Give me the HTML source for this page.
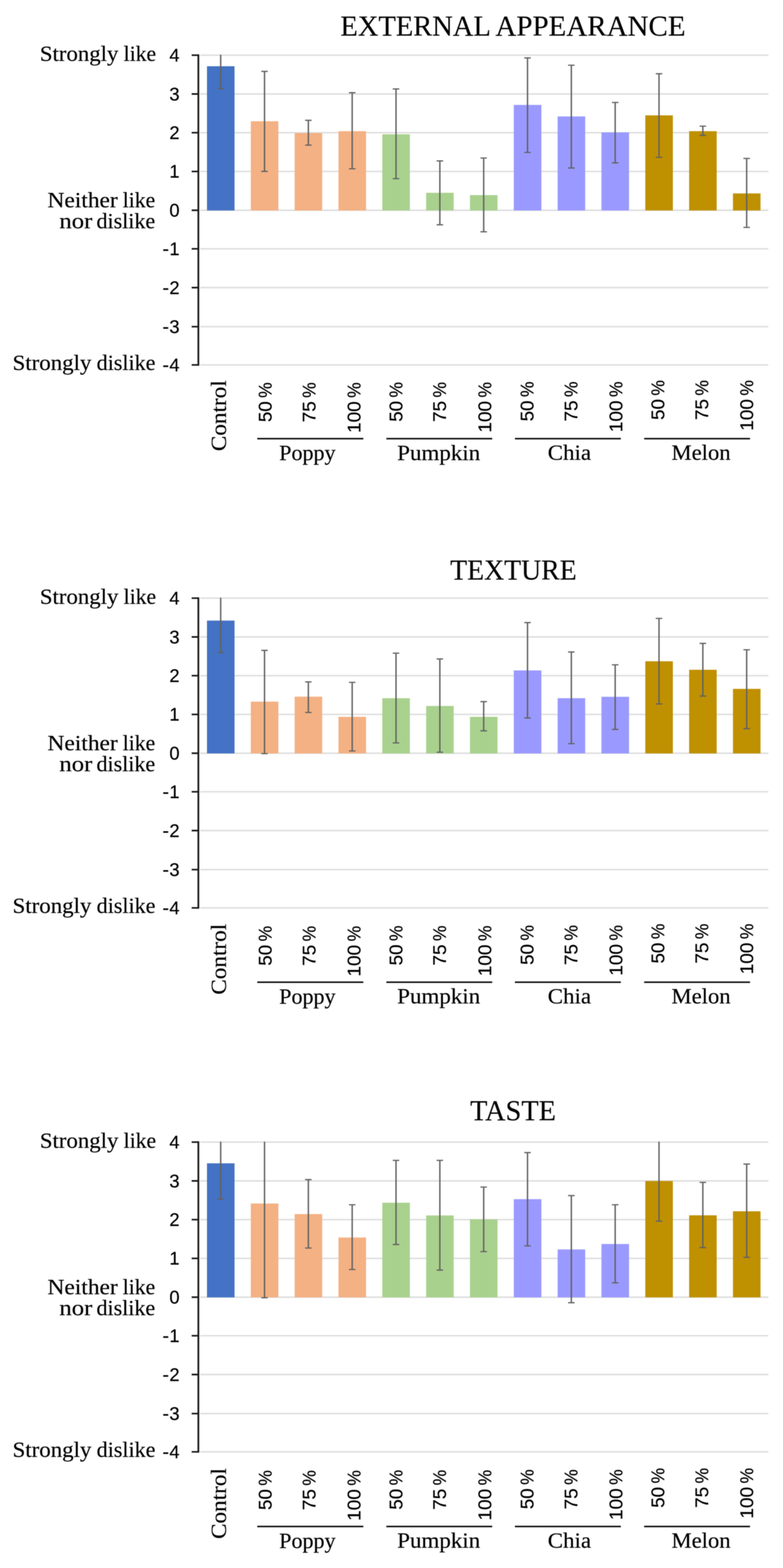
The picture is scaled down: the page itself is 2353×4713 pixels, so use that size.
<!DOCTYPE html>
<html lang="en">
<head>
<meta charset="utf-8">
<title>Sensory evaluation: external appearance, texture, taste</title>
<style>
html,body{margin:0;padding:0;background:#fff}
body{width:2353px;height:4713px;overflow:hidden}
svg{display:block;filter:blur(0.9px)}
text{fill:#000;white-space:pre}
.s{font-family:"Liberation Serif", serif;font-size:65px;stroke:#000;stroke-width:.45px}
.t{font-family:"Liberation Serif", serif;font-size:86px;stroke:#000;stroke-width:.3px}
.n{font-family:"Liberation Sans", sans-serif;font-size:55px;stroke:#000;stroke-width:.5px}
.r{font-family:"Liberation Sans", sans-serif;font-size:55px;stroke:#000;stroke-width:.5px}
.g{stroke:#dddddd;stroke-width:4.3;fill:none}
.a{stroke:#161616;fill:none;stroke-linejoin:round;stroke-linecap:butt}
.e{stroke:#626262;stroke-width:4.2;fill:none}
.c{stroke:#626262;stroke-width:3.6;fill:none}
.u{stroke:#0a0a0a;stroke-width:4.4;fill:none}
</style>
</head>
<body>
<svg width="2353" height="4713" viewBox="0 0 2353 4713">
<rect width="2353" height="4713" fill="#fff"/>
<g transform="translate(0 0)">
<text class="t" y="106.8"><tspan x="1022.95" textLength="448.86" lengthAdjust="spacingAndGlyphs">EXTERNAL</tspan> <tspan x="1488.75" textLength="571.39" lengthAdjust="spacingAndGlyphs">APPEARANCE</tspan></text>
<path class="g" d="M601 165.9H2309M601 282.5H2309M601 398.9H2309M601 515.3H2309M601 632H2309M601 747.8H2309M601 864.5H2309M601 981.8H2309M601 1096.8H2309"/>
<rect x="622" y="199.1" width="82.8" height="433.5" fill="#4472C4"/>
<rect x="753.72" y="364.4" width="82.8" height="268.2" fill="#F4B183"/>
<rect x="885.44" y="399.9" width="82.8" height="232.7" fill="#F4B183"/>
<rect x="1017.16" y="394.3" width="82.8" height="238.3" fill="#F4B183"/>
<rect x="1148.88" y="403.6" width="82.8" height="229" fill="#A9D18E"/>
<rect x="1280.6" y="579.5" width="82.8" height="53.1" fill="#A9D18E"/>
<rect x="1412.32" y="586.5" width="82.8" height="46.1" fill="#A9D18E"/>
<rect x="1544.04" y="315.4" width="82.8" height="317.2" fill="#9999FF"/>
<rect x="1675.76" y="350" width="82.8" height="282.6" fill="#9999FF"/>
<rect x="1807.48" y="398" width="82.8" height="234.6" fill="#9999FF"/>
<rect x="1939.2" y="346.7" width="82.8" height="285.9" fill="#BF9000"/>
<rect x="2070.92" y="394.3" width="82.8" height="238.3" fill="#BF9000"/>
<rect x="2202.64" y="581.4" width="82.8" height="51.2" fill="#BF9000"/>
<path class="e" d="M663.2 164.4V266.4M794.92 214.6V515.1M926.64 361.6V436.3M1058.36 278.6V507.2M1190.08 267.4V537M1321.8 483.6V675.6M1453.52 475V696.6M1585.24 174.1V458.2M1716.96 196V504.9M1848.68 308V489.6M1980.4 221.6V473M2112.12 379.3V406.9M2243.84 476.2V683.5"/>
<path class="c" d="M653.45 266.4h19.5M785.17 214.6h19.5M785.17 515.1h19.5M916.89 361.6h19.5M916.89 436.3h19.5M1048.61 278.6h19.5M1048.61 507.2h19.5M1180.33 267.4h19.5M1180.33 537h19.5M1312.05 483.6h19.5M1312.05 675.6h19.5M1443.77 475h19.5M1443.77 696.6h19.5M1575.49 174.1h19.5M1575.49 458.2h19.5M1707.21 196h19.5M1707.21 504.9h19.5M1838.93 308h19.5M1838.93 489.6h19.5M1970.65 221.6h19.5M1970.65 473h19.5M2102.37 379.3h19.5M2102.37 406.9h19.5M2234.09 476.2h19.5M2234.09 683.5h19.5"/>
<path class="a" stroke-width="5.2" d="M596.1 163.5V1099.2"/>
<path class="a" stroke-width="4.8" d="M576 165.9H596.1M576 282.5H596.1M576 398.9H596.1M576 515.3H596.1M576 632H596.1M576 747.8H596.1M576 864.5H596.1M576 981.8H596.1M576 1096.8H596.1"/>
<text class="n" y="184.9"><tspan x="509.01" textLength="30.59" lengthAdjust="spacingAndGlyphs">4</tspan></text>
<text class="n" y="301.5"><tspan x="509.01" textLength="30.59" lengthAdjust="spacingAndGlyphs">3</tspan></text>
<text class="n" y="417.9"><tspan x="509.01" textLength="30.59" lengthAdjust="spacingAndGlyphs">2</tspan></text>
<text class="n" y="534.3"><tspan x="509.01" textLength="30.59" lengthAdjust="spacingAndGlyphs">1</tspan></text>
<text class="n" y="651"><tspan x="509.01" textLength="30.59" lengthAdjust="spacingAndGlyphs">0</tspan></text>
<text class="n" y="766.8"><tspan x="488.38" textLength="19.64" lengthAdjust="spacingAndGlyphs">-</tspan><tspan x="509.01" textLength="30.59" lengthAdjust="spacingAndGlyphs">1</tspan></text>
<text class="n" y="883.5"><tspan x="488.38" textLength="19.64" lengthAdjust="spacingAndGlyphs">-</tspan><tspan x="509.01" textLength="30.59" lengthAdjust="spacingAndGlyphs">2</tspan></text>
<text class="n" y="1000.8"><tspan x="488.38" textLength="19.64" lengthAdjust="spacingAndGlyphs">-</tspan><tspan x="509.01" textLength="30.59" lengthAdjust="spacingAndGlyphs">3</tspan></text>
<text class="n" y="1115.8"><tspan x="488.38" textLength="19.64" lengthAdjust="spacingAndGlyphs">-</tspan><tspan x="509.01" textLength="30.59" lengthAdjust="spacingAndGlyphs">4</tspan></text>
<text class="s" y="182.8"><tspan x="119.72" textLength="236.05" lengthAdjust="spacingAndGlyphs">Strongly</tspan> <tspan x="371.6" textLength="97.45" lengthAdjust="spacingAndGlyphs">like</tspan></text>
<text class="s" y="623.2"><tspan x="142.67" textLength="211.15" lengthAdjust="spacingAndGlyphs">Neither</tspan> <tspan x="368.7" textLength="97.66" lengthAdjust="spacingAndGlyphs">like</tspan></text>
<text class="s" y="685.7"><tspan x="178.39" textLength="99.26" lengthAdjust="spacingAndGlyphs">nor</tspan> <tspan x="290.01" textLength="176.38" lengthAdjust="spacingAndGlyphs">dislike</tspan></text>
<text class="s" y="1112"><tspan x="37.7" textLength="237.07" lengthAdjust="spacingAndGlyphs">Strongly</tspan> <tspan x="290.61" textLength="176.38" lengthAdjust="spacingAndGlyphs">dislike</tspan></text>
<text class="s" transform="translate(679.4 0) rotate(-90)"><tspan x="-1356.06" textLength="213.16" lengthAdjust="spacingAndGlyphs">Control</tspan></text>
<text class="s" y="1382.7"><tspan x="839.09" textLength="169.17" lengthAdjust="spacingAndGlyphs">Poppy</tspan></text>
<text class="s" y="1382.5"><tspan x="1193.51" textLength="249.64" lengthAdjust="spacingAndGlyphs">Pumpkin</tspan></text>
<text class="s" y="1382.3"><tspan x="1646.07" textLength="130.17" lengthAdjust="spacingAndGlyphs">Chia</tspan></text>
<text class="s" y="1382.3"><tspan x="2017.94" textLength="177.49" lengthAdjust="spacingAndGlyphs">Melon</tspan></text>
<text class="r" transform="translate(815.7 0) rotate(-90)"><tspan x="-1268.86" textLength="62.66" lengthAdjust="spacingAndGlyphs">50</tspan> <tspan x="-1195.67" textLength="46.53" lengthAdjust="spacingAndGlyphs">%</tspan></text>
<text class="r" transform="translate(948.2 0) rotate(-90)"><tspan x="-1269.53" textLength="63.53" lengthAdjust="spacingAndGlyphs">75</tspan> <tspan x="-1195.67" textLength="46.53" lengthAdjust="spacingAndGlyphs">%</tspan></text>
<text class="r" transform="translate(1082.5 0) rotate(-90)"><tspan x="-1301.35" textLength="95.17" lengthAdjust="spacingAndGlyphs">100</tspan> <tspan x="-1195.67" textLength="46.53" lengthAdjust="spacingAndGlyphs">%</tspan></text>
<text class="r" transform="translate(1208.8 0) rotate(-90)"><tspan x="-1267.86" textLength="62.66" lengthAdjust="spacingAndGlyphs">50</tspan> <tspan x="-1194.67" textLength="46.53" lengthAdjust="spacingAndGlyphs">%</tspan></text>
<text class="r" transform="translate(1340.1 0) rotate(-90)"><tspan x="-1268.53" textLength="63.53" lengthAdjust="spacingAndGlyphs">75</tspan> <tspan x="-1194.67" textLength="46.53" lengthAdjust="spacingAndGlyphs">%</tspan></text>
<text class="r" transform="translate(1476 0) rotate(-90)"><tspan x="-1300.35" textLength="95.17" lengthAdjust="spacingAndGlyphs">100</tspan> <tspan x="-1194.67" textLength="46.53" lengthAdjust="spacingAndGlyphs">%</tspan></text>
<text class="r" transform="translate(1602.7 0) rotate(-90)"><tspan x="-1266.46" textLength="62.66" lengthAdjust="spacingAndGlyphs">50</tspan> <tspan x="-1193.27" textLength="46.53" lengthAdjust="spacingAndGlyphs">%</tspan></text>
<text class="r" transform="translate(1735.4 0) rotate(-90)"><tspan x="-1267.13" textLength="63.53" lengthAdjust="spacingAndGlyphs">75</tspan> <tspan x="-1193.27" textLength="46.53" lengthAdjust="spacingAndGlyphs">%</tspan></text>
<text class="r" transform="translate(1869.7 0) rotate(-90)"><tspan x="-1298.95" textLength="95.17" lengthAdjust="spacingAndGlyphs">100</tspan> <tspan x="-1193.27" textLength="46.53" lengthAdjust="spacingAndGlyphs">%</tspan></text>
<text class="r" transform="translate(1995.8 0) rotate(-90)"><tspan x="-1262.16" textLength="62.66" lengthAdjust="spacingAndGlyphs">50</tspan> <tspan x="-1188.97" textLength="46.53" lengthAdjust="spacingAndGlyphs">%</tspan></text>
<text class="r" transform="translate(2127.5 0) rotate(-90)"><tspan x="-1262.83" textLength="63.53" lengthAdjust="spacingAndGlyphs">75</tspan> <tspan x="-1188.97" textLength="46.53" lengthAdjust="spacingAndGlyphs">%</tspan></text>
<text class="r" transform="translate(2262.9 0) rotate(-90)"><tspan x="-1294.65" textLength="95.17" lengthAdjust="spacingAndGlyphs">100</tspan> <tspan x="-1188.97" textLength="46.53" lengthAdjust="spacingAndGlyphs">%</tspan></text>
<path class="u" d="M773.1 1318.5H1091.9M1161.1 1318.5H1479.2M1547.4 1318.5H1865.7M1935.8 1318.5H2253.9"/>
</g>
<g transform="translate(0 1632)">
<text class="t" y="109.9"><tspan x="1352.69" textLength="380.27" lengthAdjust="spacingAndGlyphs">TEXTURE</tspan></text>
<path class="g" d="M601 165.9H2309M601 282.5H2309M601 398.9H2309M601 515.3H2309M601 632H2309M601 747.8H2309M601 864.5H2309M601 981.8H2309M601 1096.8H2309"/>
<rect x="622" y="233.3" width="82.8" height="399.3" fill="#4472C4"/>
<rect x="753.72" y="476.9" width="82.8" height="155.7" fill="#F4B183"/>
<rect x="885.44" y="461.9" width="82.8" height="170.7" fill="#F4B183"/>
<rect x="1017.16" y="522.6" width="82.8" height="110" fill="#F4B183"/>
<rect x="1148.88" y="466.6" width="82.8" height="166" fill="#A9D18E"/>
<rect x="1280.6" y="489.9" width="82.8" height="142.7" fill="#A9D18E"/>
<rect x="1412.32" y="522.6" width="82.8" height="110" fill="#A9D18E"/>
<rect x="1544.04" y="383.1" width="82.8" height="249.5" fill="#9999FF"/>
<rect x="1675.76" y="466.6" width="82.8" height="166" fill="#9999FF"/>
<rect x="1807.48" y="462.4" width="82.8" height="170.2" fill="#9999FF"/>
<rect x="1939.2" y="355.6" width="82.8" height="277" fill="#BF9000"/>
<rect x="2070.92" y="381.2" width="82.8" height="251.4" fill="#BF9000"/>
<rect x="2202.64" y="438.6" width="82.8" height="194" fill="#BF9000"/>
<path class="e" d="M663.2 164.4V329.4M794.92 322.9V633.2M926.64 417.6V509.5M1058.36 419V625.2M1190.08 331.3V601M1321.8 348.6V629M1453.52 476.9V564.6M1585.24 239.4V525.9M1716.96 327.6V603.3M1848.68 366.3V560.4M1980.4 226.8V483.9M2112.12 301.9V460.1M2243.84 321V558.1"/>
<path class="c" d="M653.45 329.4h19.5M785.17 322.9h19.5M785.17 633.2h19.5M916.89 417.6h19.5M916.89 509.5h19.5M1048.61 419h19.5M1048.61 625.2h19.5M1180.33 331.3h19.5M1180.33 601h19.5M1312.05 348.6h19.5M1312.05 629h19.5M1443.77 476.9h19.5M1443.77 564.6h19.5M1575.49 239.4h19.5M1575.49 525.9h19.5M1707.21 327.6h19.5M1707.21 603.3h19.5M1838.93 366.3h19.5M1838.93 560.4h19.5M1970.65 226.8h19.5M1970.65 483.9h19.5M2102.37 301.9h19.5M2102.37 460.1h19.5M2234.09 321h19.5M2234.09 558.1h19.5"/>
<path class="a" stroke-width="5.2" d="M596.1 163.5V1099.2"/>
<path class="a" stroke-width="4.8" d="M576 165.9H596.1M576 282.5H596.1M576 398.9H596.1M576 515.3H596.1M576 632H596.1M576 747.8H596.1M576 864.5H596.1M576 981.8H596.1M576 1096.8H596.1"/>
<text class="n" y="184.9"><tspan x="509.01" textLength="30.59" lengthAdjust="spacingAndGlyphs">4</tspan></text>
<text class="n" y="301.5"><tspan x="509.01" textLength="30.59" lengthAdjust="spacingAndGlyphs">3</tspan></text>
<text class="n" y="417.9"><tspan x="509.01" textLength="30.59" lengthAdjust="spacingAndGlyphs">2</tspan></text>
<text class="n" y="534.3"><tspan x="509.01" textLength="30.59" lengthAdjust="spacingAndGlyphs">1</tspan></text>
<text class="n" y="651"><tspan x="509.01" textLength="30.59" lengthAdjust="spacingAndGlyphs">0</tspan></text>
<text class="n" y="766.8"><tspan x="488.38" textLength="19.64" lengthAdjust="spacingAndGlyphs">-</tspan><tspan x="509.01" textLength="30.59" lengthAdjust="spacingAndGlyphs">1</tspan></text>
<text class="n" y="883.5"><tspan x="488.38" textLength="19.64" lengthAdjust="spacingAndGlyphs">-</tspan><tspan x="509.01" textLength="30.59" lengthAdjust="spacingAndGlyphs">2</tspan></text>
<text class="n" y="1000.8"><tspan x="488.38" textLength="19.64" lengthAdjust="spacingAndGlyphs">-</tspan><tspan x="509.01" textLength="30.59" lengthAdjust="spacingAndGlyphs">3</tspan></text>
<text class="n" y="1115.8"><tspan x="488.38" textLength="19.64" lengthAdjust="spacingAndGlyphs">-</tspan><tspan x="509.01" textLength="30.59" lengthAdjust="spacingAndGlyphs">4</tspan></text>
<text class="s" y="182.8"><tspan x="119.72" textLength="236.05" lengthAdjust="spacingAndGlyphs">Strongly</tspan> <tspan x="371.6" textLength="97.45" lengthAdjust="spacingAndGlyphs">like</tspan></text>
<text class="s" y="623.2"><tspan x="142.67" textLength="211.15" lengthAdjust="spacingAndGlyphs">Neither</tspan> <tspan x="368.7" textLength="97.66" lengthAdjust="spacingAndGlyphs">like</tspan></text>
<text class="s" y="685.7"><tspan x="178.39" textLength="99.26" lengthAdjust="spacingAndGlyphs">nor</tspan> <tspan x="290.01" textLength="176.38" lengthAdjust="spacingAndGlyphs">dislike</tspan></text>
<text class="s" y="1112"><tspan x="37.7" textLength="237.07" lengthAdjust="spacingAndGlyphs">Strongly</tspan> <tspan x="290.61" textLength="176.38" lengthAdjust="spacingAndGlyphs">dislike</tspan></text>
<text class="s" transform="translate(679.4 0) rotate(-90)"><tspan x="-1357.86" textLength="213.16" lengthAdjust="spacingAndGlyphs">Control</tspan></text>
<text class="s" y="1384.5"><tspan x="839.09" textLength="169.17" lengthAdjust="spacingAndGlyphs">Poppy</tspan></text>
<text class="s" y="1384.3"><tspan x="1193.51" textLength="249.64" lengthAdjust="spacingAndGlyphs">Pumpkin</tspan></text>
<text class="s" y="1384.1"><tspan x="1646.07" textLength="130.17" lengthAdjust="spacingAndGlyphs">Chia</tspan></text>
<text class="s" y="1384.1"><tspan x="2017.94" textLength="177.49" lengthAdjust="spacingAndGlyphs">Melon</tspan></text>
<text class="r" transform="translate(815.7 0) rotate(-90)"><tspan x="-1270.66" textLength="62.66" lengthAdjust="spacingAndGlyphs">50</tspan> <tspan x="-1197.47" textLength="46.53" lengthAdjust="spacingAndGlyphs">%</tspan></text>
<text class="r" transform="translate(948.2 0) rotate(-90)"><tspan x="-1271.33" textLength="63.53" lengthAdjust="spacingAndGlyphs">75</tspan> <tspan x="-1197.47" textLength="46.53" lengthAdjust="spacingAndGlyphs">%</tspan></text>
<text class="r" transform="translate(1082.5 0) rotate(-90)"><tspan x="-1303.15" textLength="95.17" lengthAdjust="spacingAndGlyphs">100</tspan> <tspan x="-1197.47" textLength="46.53" lengthAdjust="spacingAndGlyphs">%</tspan></text>
<text class="r" transform="translate(1208.8 0) rotate(-90)"><tspan x="-1269.66" textLength="62.66" lengthAdjust="spacingAndGlyphs">50</tspan> <tspan x="-1196.47" textLength="46.53" lengthAdjust="spacingAndGlyphs">%</tspan></text>
<text class="r" transform="translate(1340.1 0) rotate(-90)"><tspan x="-1270.33" textLength="63.53" lengthAdjust="spacingAndGlyphs">75</tspan> <tspan x="-1196.47" textLength="46.53" lengthAdjust="spacingAndGlyphs">%</tspan></text>
<text class="r" transform="translate(1476 0) rotate(-90)"><tspan x="-1302.15" textLength="95.17" lengthAdjust="spacingAndGlyphs">100</tspan> <tspan x="-1196.47" textLength="46.53" lengthAdjust="spacingAndGlyphs">%</tspan></text>
<text class="r" transform="translate(1602.7 0) rotate(-90)"><tspan x="-1268.26" textLength="62.66" lengthAdjust="spacingAndGlyphs">50</tspan> <tspan x="-1195.07" textLength="46.53" lengthAdjust="spacingAndGlyphs">%</tspan></text>
<text class="r" transform="translate(1735.4 0) rotate(-90)"><tspan x="-1268.93" textLength="63.53" lengthAdjust="spacingAndGlyphs">75</tspan> <tspan x="-1195.07" textLength="46.53" lengthAdjust="spacingAndGlyphs">%</tspan></text>
<text class="r" transform="translate(1869.7 0) rotate(-90)"><tspan x="-1300.75" textLength="95.17" lengthAdjust="spacingAndGlyphs">100</tspan> <tspan x="-1195.07" textLength="46.53" lengthAdjust="spacingAndGlyphs">%</tspan></text>
<text class="r" transform="translate(1995.8 0) rotate(-90)"><tspan x="-1263.96" textLength="62.66" lengthAdjust="spacingAndGlyphs">50</tspan> <tspan x="-1190.77" textLength="46.53" lengthAdjust="spacingAndGlyphs">%</tspan></text>
<text class="r" transform="translate(2127.5 0) rotate(-90)"><tspan x="-1264.63" textLength="63.53" lengthAdjust="spacingAndGlyphs">75</tspan> <tspan x="-1190.77" textLength="46.53" lengthAdjust="spacingAndGlyphs">%</tspan></text>
<text class="r" transform="translate(2262.9 0) rotate(-90)"><tspan x="-1296.45" textLength="95.17" lengthAdjust="spacingAndGlyphs">100</tspan> <tspan x="-1190.77" textLength="46.53" lengthAdjust="spacingAndGlyphs">%</tspan></text>
<path class="u" d="M773.1 1320.3H1091.9M1161.1 1320.3H1479.2M1547.4 1320.3H1865.7M1935.8 1320.3H2253.9"/>
</g>
<g transform="translate(0 3267)">
<text class="t" y="99.9"><tspan x="1412.66" textLength="257.98" lengthAdjust="spacingAndGlyphs">TASTE</tspan></text>
<path class="g" d="M601 165.9H2309M601 282.5H2309M601 398.9H2309M601 515.3H2309M601 632H2309M601 747.8H2309M601 864.5H2309M601 981.8H2309M601 1096.8H2309"/>
<rect x="622" y="229.6" width="82.8" height="403" fill="#4472C4"/>
<rect x="753.72" y="350.4" width="82.8" height="282.2" fill="#F4B183"/>
<rect x="885.44" y="382.2" width="82.8" height="250.4" fill="#F4B183"/>
<rect x="1017.16" y="452.6" width="82.8" height="180" fill="#F4B183"/>
<rect x="1148.88" y="348.1" width="82.8" height="284.5" fill="#A9D18E"/>
<rect x="1280.6" y="386.3" width="82.8" height="246.3" fill="#A9D18E"/>
<rect x="1412.32" y="398" width="82.8" height="234.6" fill="#A9D18E"/>
<rect x="1544.04" y="337.4" width="82.8" height="295.2" fill="#9999FF"/>
<rect x="1675.76" y="488.5" width="82.8" height="144.1" fill="#9999FF"/>
<rect x="1807.48" y="472.2" width="82.8" height="160.4" fill="#9999FF"/>
<rect x="1939.2" y="282.8" width="82.8" height="349.8" fill="#BF9000"/>
<rect x="2070.92" y="385.9" width="82.8" height="246.7" fill="#BF9000"/>
<rect x="2202.64" y="373.8" width="82.8" height="258.8" fill="#BF9000"/>
<path class="e" d="M663.2 164.4V336.9M794.92 164.4V633.6M926.64 278.6V484.3M1058.36 354.2V548.7M1190.08 220.7V473.6M1321.8 220.7V550.6M1453.52 301V495M1585.24 197.4V477.8M1716.96 326.6V648.6M1848.68 354.2V588.8M1980.4 164.4V403.6M2112.12 287V482.9M2243.84 231.9V512.3"/>
<path class="c" d="M653.45 336.9h19.5M785.17 633.6h19.5M916.89 278.6h19.5M916.89 484.3h19.5M1048.61 354.2h19.5M1048.61 548.7h19.5M1180.33 220.7h19.5M1180.33 473.6h19.5M1312.05 220.7h19.5M1312.05 550.6h19.5M1443.77 301h19.5M1443.77 495h19.5M1575.49 197.4h19.5M1575.49 477.8h19.5M1707.21 326.6h19.5M1707.21 648.6h19.5M1838.93 354.2h19.5M1838.93 588.8h19.5M1970.65 403.6h19.5M2102.37 287h19.5M2102.37 482.9h19.5M2234.09 231.9h19.5M2234.09 512.3h19.5"/>
<path class="a" stroke-width="5.2" d="M596.1 163.5V1099.2"/>
<path class="a" stroke-width="4.8" d="M576 165.9H596.1M576 282.5H596.1M576 398.9H596.1M576 515.3H596.1M576 632H596.1M576 747.8H596.1M576 864.5H596.1M576 981.8H596.1M576 1096.8H596.1"/>
<text class="n" y="184.9"><tspan x="509.01" textLength="30.59" lengthAdjust="spacingAndGlyphs">4</tspan></text>
<text class="n" y="301.5"><tspan x="509.01" textLength="30.59" lengthAdjust="spacingAndGlyphs">3</tspan></text>
<text class="n" y="417.9"><tspan x="509.01" textLength="30.59" lengthAdjust="spacingAndGlyphs">2</tspan></text>
<text class="n" y="534.3"><tspan x="509.01" textLength="30.59" lengthAdjust="spacingAndGlyphs">1</tspan></text>
<text class="n" y="651"><tspan x="509.01" textLength="30.59" lengthAdjust="spacingAndGlyphs">0</tspan></text>
<text class="n" y="766.8"><tspan x="488.38" textLength="19.64" lengthAdjust="spacingAndGlyphs">-</tspan><tspan x="509.01" textLength="30.59" lengthAdjust="spacingAndGlyphs">1</tspan></text>
<text class="n" y="883.5"><tspan x="488.38" textLength="19.64" lengthAdjust="spacingAndGlyphs">-</tspan><tspan x="509.01" textLength="30.59" lengthAdjust="spacingAndGlyphs">2</tspan></text>
<text class="n" y="1000.8"><tspan x="488.38" textLength="19.64" lengthAdjust="spacingAndGlyphs">-</tspan><tspan x="509.01" textLength="30.59" lengthAdjust="spacingAndGlyphs">3</tspan></text>
<text class="n" y="1115.8"><tspan x="488.38" textLength="19.64" lengthAdjust="spacingAndGlyphs">-</tspan><tspan x="509.01" textLength="30.59" lengthAdjust="spacingAndGlyphs">4</tspan></text>
<text class="s" y="182.8"><tspan x="119.72" textLength="236.05" lengthAdjust="spacingAndGlyphs">Strongly</tspan> <tspan x="371.6" textLength="97.45" lengthAdjust="spacingAndGlyphs">like</tspan></text>
<text class="s" y="623.2"><tspan x="142.67" textLength="211.15" lengthAdjust="spacingAndGlyphs">Neither</tspan> <tspan x="368.7" textLength="97.66" lengthAdjust="spacingAndGlyphs">like</tspan></text>
<text class="s" y="685.7"><tspan x="178.39" textLength="99.26" lengthAdjust="spacingAndGlyphs">nor</tspan> <tspan x="290.01" textLength="176.38" lengthAdjust="spacingAndGlyphs">dislike</tspan></text>
<text class="s" y="1112"><tspan x="37.7" textLength="237.07" lengthAdjust="spacingAndGlyphs">Strongly</tspan> <tspan x="290.61" textLength="176.38" lengthAdjust="spacingAndGlyphs">dislike</tspan></text>
<text class="s" transform="translate(679.4 0) rotate(-90)"><tspan x="-1358.86" textLength="213.16" lengthAdjust="spacingAndGlyphs">Control</tspan></text>
<text class="s" y="1385.5"><tspan x="839.09" textLength="169.17" lengthAdjust="spacingAndGlyphs">Poppy</tspan></text>
<text class="s" y="1385.3"><tspan x="1193.51" textLength="249.64" lengthAdjust="spacingAndGlyphs">Pumpkin</tspan></text>
<text class="s" y="1385.1"><tspan x="1646.07" textLength="130.17" lengthAdjust="spacingAndGlyphs">Chia</tspan></text>
<text class="s" y="1385.1"><tspan x="2017.94" textLength="177.49" lengthAdjust="spacingAndGlyphs">Melon</tspan></text>
<text class="r" transform="translate(815.7 0) rotate(-90)"><tspan x="-1271.66" textLength="62.66" lengthAdjust="spacingAndGlyphs">50</tspan> <tspan x="-1198.47" textLength="46.53" lengthAdjust="spacingAndGlyphs">%</tspan></text>
<text class="r" transform="translate(948.2 0) rotate(-90)"><tspan x="-1272.33" textLength="63.53" lengthAdjust="spacingAndGlyphs">75</tspan> <tspan x="-1198.47" textLength="46.53" lengthAdjust="spacingAndGlyphs">%</tspan></text>
<text class="r" transform="translate(1082.5 0) rotate(-90)"><tspan x="-1304.15" textLength="95.17" lengthAdjust="spacingAndGlyphs">100</tspan> <tspan x="-1198.47" textLength="46.53" lengthAdjust="spacingAndGlyphs">%</tspan></text>
<text class="r" transform="translate(1208.8 0) rotate(-90)"><tspan x="-1270.66" textLength="62.66" lengthAdjust="spacingAndGlyphs">50</tspan> <tspan x="-1197.47" textLength="46.53" lengthAdjust="spacingAndGlyphs">%</tspan></text>
<text class="r" transform="translate(1340.1 0) rotate(-90)"><tspan x="-1271.33" textLength="63.53" lengthAdjust="spacingAndGlyphs">75</tspan> <tspan x="-1197.47" textLength="46.53" lengthAdjust="spacingAndGlyphs">%</tspan></text>
<text class="r" transform="translate(1476 0) rotate(-90)"><tspan x="-1303.15" textLength="95.17" lengthAdjust="spacingAndGlyphs">100</tspan> <tspan x="-1197.47" textLength="46.53" lengthAdjust="spacingAndGlyphs">%</tspan></text>
<text class="r" transform="translate(1602.7 0) rotate(-90)"><tspan x="-1269.26" textLength="62.66" lengthAdjust="spacingAndGlyphs">50</tspan> <tspan x="-1196.07" textLength="46.53" lengthAdjust="spacingAndGlyphs">%</tspan></text>
<text class="r" transform="translate(1735.4 0) rotate(-90)"><tspan x="-1269.93" textLength="63.53" lengthAdjust="spacingAndGlyphs">75</tspan> <tspan x="-1196.07" textLength="46.53" lengthAdjust="spacingAndGlyphs">%</tspan></text>
<text class="r" transform="translate(1869.7 0) rotate(-90)"><tspan x="-1301.75" textLength="95.17" lengthAdjust="spacingAndGlyphs">100</tspan> <tspan x="-1196.07" textLength="46.53" lengthAdjust="spacingAndGlyphs">%</tspan></text>
<text class="r" transform="translate(1995.8 0) rotate(-90)"><tspan x="-1264.96" textLength="62.66" lengthAdjust="spacingAndGlyphs">50</tspan> <tspan x="-1191.77" textLength="46.53" lengthAdjust="spacingAndGlyphs">%</tspan></text>
<text class="r" transform="translate(2127.5 0) rotate(-90)"><tspan x="-1265.63" textLength="63.53" lengthAdjust="spacingAndGlyphs">75</tspan> <tspan x="-1191.77" textLength="46.53" lengthAdjust="spacingAndGlyphs">%</tspan></text>
<text class="r" transform="translate(2262.9 0) rotate(-90)"><tspan x="-1297.45" textLength="95.17" lengthAdjust="spacingAndGlyphs">100</tspan> <tspan x="-1191.77" textLength="46.53" lengthAdjust="spacingAndGlyphs">%</tspan></text>
<path class="u" d="M773.1 1321.3H1091.9M1161.1 1321.3H1479.2M1547.4 1321.3H1865.7M1935.8 1321.3H2253.9"/>
</g>
</svg>
</body>
</html>
